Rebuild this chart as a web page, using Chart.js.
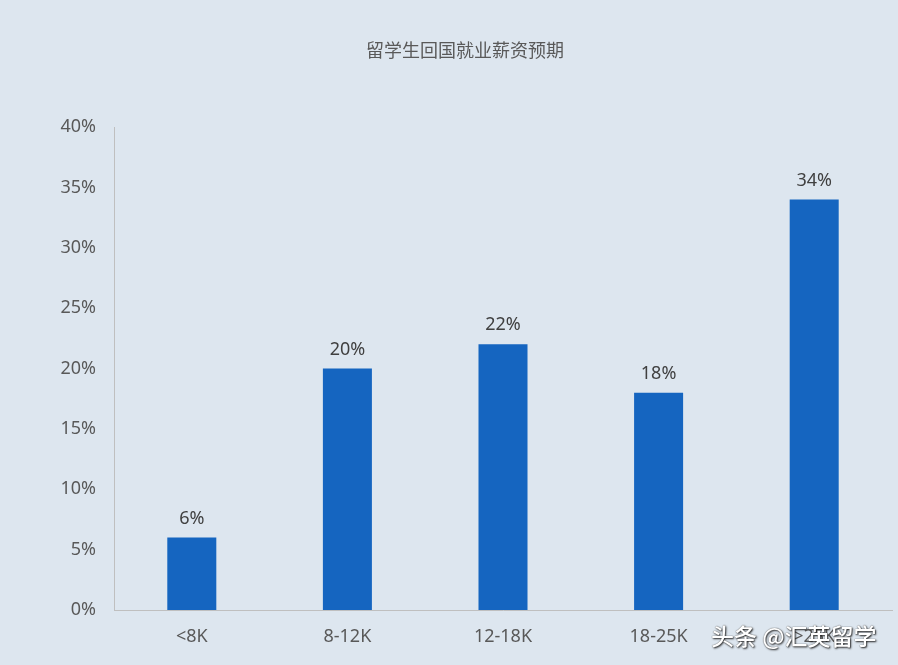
<!DOCTYPE html>
<html>
<head>
<meta charset="utf-8">
<script src="https://cdn.jsdelivr.net/npm/chart.js@4"></script>
<style>
  html, body { margin: 0; padding: 0; background: #dde6ef; }
  #wrap { position: relative; width: 898px; height: 665px; }
  #mark { position: absolute; left: 711px; top: 618px; font: 500 23px "Noto Sans CJK SC", sans-serif;
          color: #ffffff; text-shadow: 1px 1px 2px #222, 0 0 1px #333; white-space: nowrap; }
</style>
</head>
<body>
<div id="wrap">
  <canvas id="myChart" width="898" height="665"></canvas>
  <div id="mark">头条 @汇英留学</div>
</div>
<script>
  var categories = ["<8K", "8-12K", "12-18K", "18-25K", ">25K"];
  var values = [6, 20, 22, 18, 34];
  var yTicks = [0, 5, 10, 15, 20, 25, 30, 35, 40];
  var titleText = "留学生回国就业薪资预期";

  var FONT = '"Noto Sans", "Noto Sans CJK SC", sans-serif';

  // title, sits a bit right of the canvas centre like the original
  var topTitle = {
    id: "topTitle",
    afterDraw: function (chart) {
      var ctx = chart.ctx;
      ctx.save();
      ctx.font = "18px " + FONT;
      ctx.fillStyle = "#595959";
      ctx.textAlign = "center";
      ctx.textBaseline = "middle";
      ctx.fillText(titleText, chart.width / 2 + 16, 52);
      ctx.restore();
    }
  };

  // value labels above each bar
  var barLabels = {
    id: "barLabels",
    afterDatasetsDraw: function (chart) {
      var ctx = chart.ctx;
      var meta = chart.getDatasetMeta(0);
      ctx.save();
      ctx.font = "18px " + FONT;
      ctx.fillStyle = "#404040";
      ctx.textAlign = "center";
      ctx.textBaseline = "bottom";
      meta.data.forEach(function (bar, i) {
        ctx.fillText(values[i] + "%", bar.x, bar.y - 10);
      });
      ctx.restore();
    }
  };

  var chart = new Chart("myChart", {
    type: "bar",
    data: {
      labels: categories,
      datasets: [{
        data: values,
        backgroundColor: "#1565c0",
        barPercentage: 0.315,
        categoryPercentage: 1.0
      }]
    },
    options: {
      responsive: false,
      animation: false,
      layout: { padding: { left: 0, right: 6, top: 127, bottom: 0 } },
      plugins: {
        legend: { display: false },
        tooltip: { enabled: false },
        title: { display: false }
      },
      scales: {
        x: {
          grid: { display: false, drawTicks: false },
          border: { color: "#bfbfbf", width: 1 },
          ticks: { color: "#595959", font: { size: 18, family: FONT }, padding: 16 },
          afterFit: function (s) { s.height = 55; }
        },
        y: {
          min: 0,
          max: 40,
          afterBuildTicks: function (s) {
            s.ticks = yTicks.map(function (v) { return { value: v }; });
          },
          grid: { display: false, drawTicks: false },
          border: { color: "#bfbfbf", width: 1 },
          ticks: {
            color: "#595959",
            font: { size: 18, family: FONT },
            padding: 18,
            callback: function (v) { return v + "%"; }
          },
          afterFit: function (s) { s.width = 114; }
        }
      }
    },
    plugins: [barLabels, topTitle]
  });
</script>
</body>
</html>
